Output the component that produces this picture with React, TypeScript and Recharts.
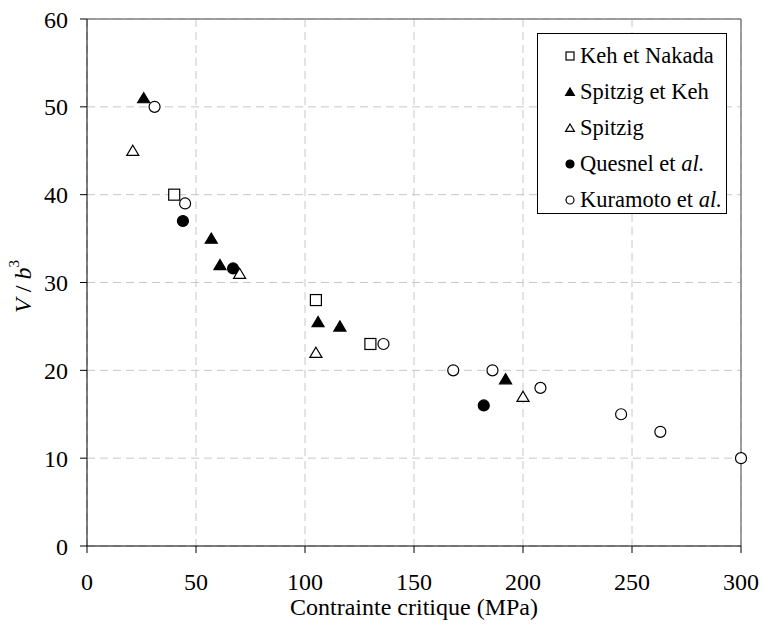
import React from "react";
import {
  ScatterChart,
  Scatter,
  XAxis,
  YAxis,
  CartesianGrid,
  ReferenceLine,
  Label,
} from "recharts";

// Activation volume vs critical stress, grouped by source
const kehNakada = [
  { x: 40, y: 40 },
  { x: 105, y: 28 },
  { x: 130, y: 23 },
];
const spitzigKeh = [
  { x: 26, y: 51 },
  { x: 57, y: 35 },
  { x: 61, y: 32 },
  { x: 106, y: 25.5 },
  { x: 116, y: 25 },
  { x: 192, y: 19 },
];
const spitzig = [
  { x: 21, y: 45 },
  { x: 70, y: 31 },
  { x: 105, y: 22 },
  { x: 200, y: 17 },
];
const quesnel = [
  { x: 44, y: 37 },
  { x: 67, y: 31.6 },
  { x: 182, y: 16 },
];
const kuramoto = [
  { x: 31, y: 50 },
  { x: 45, y: 39 },
  { x: 136, y: 23 },
  { x: 168, y: 20 },
  { x: 186, y: 20 },
  { x: 208, y: 18 },
  { x: 245, y: 15 },
  { x: 263, y: 13 },
  { x: 300, y: 10 },
];

const xTicks = [0, 50, 100, 150, 200, 250, 300];
const yTicks = [0, 10, 20, 30, 40, 50, 60];

const FONT = "'Liberation Serif', 'DejaVu Serif', serif";

type Marker = "square" | "triUp" | "circle";

// draws a marker centred on (cx, cy)
const drawMarker = (kind: Marker, filled: boolean, cx: number, cy: number, s: number) => {
  const fill = filled ? "#000" : "#fff";
  const h = s / 2;
  if (kind === "square") {
    return <rect x={cx - h} y={cy - h} width={s} height={s} fill={fill} stroke="#000" strokeWidth={1.2} />;
  }
  if (kind === "triUp") {
    const pts = `${cx},${cy - h} ${cx + h * 1.1},${cy + h * 0.85} ${cx - h * 1.1},${cy + h * 0.85}`;
    return <polygon points={pts} fill={fill} stroke="#000" strokeWidth={1.2} />;
  }
  return <circle cx={cx} cy={cy} r={h} fill={fill} stroke="#000" strokeWidth={1.2} />;
};

const shapeFor = (kind: Marker, filled: boolean) => (props: any) =>
  drawMarker(kind, filled, props.cx, props.cy, 11);

const legendItems: { label: React.ReactNode; kind: Marker; filled: boolean }[] = [
  { label: "Keh et Nakada", kind: "square", filled: false },
  { label: "Spitzig et Keh", kind: "triUp", filled: true },
  { label: "Spitzig", kind: "triUp", filled: false },
  {
    label: (
      <>
        Quesnel et <i>al.</i>
      </>
    ),
    kind: "circle",
    filled: true,
  },
  {
    label: (
      <>
        Kuramoto et <i>al.</i>
      </>
    ),
    kind: "circle",
    filled: false,
  },
];

const LegendBox = () => (
  <div
    style={{
      position: "absolute",
      left: 537,
      top: 33,
      border: "1px solid #000",
      background: "#fff",
      width: 190,
      height: 181,
      boxSizing: "border-box",
      paddingTop: 4,
      fontFamily: FONT,
      fontSize: 22.5,
      lineHeight: "36px",
      color: "#000",
    }}
  >
    {legendItems.map((item, i) => (
      <div key={i} style={{ display: "flex", alignItems: "center", height: 36, whiteSpace: "nowrap" }}>
        <svg width={38} height={14} style={{ flex: "none" }}>
          {drawMarker(item.kind, item.filled, 32, 7, 8)}
        </svg>
        <span style={{ marginLeft: 4 }}>{item.label}</span>
      </div>
    ))}
  </div>
);

const YTitle = (props: any) => {
  const { viewBox } = props;
  const cx = 23;
  const cy = viewBox.y + viewBox.height / 2 + 4;
  return (
    <text
      x={cx}
      y={cy}
      transform={`rotate(-90, ${cx}, ${cy})`}
      textAnchor="middle"
      dominantBaseline="central"
      fontFamily={FONT}
      fontSize={24}
      fill="#000"
    >
      <tspan fontStyle="italic">V</tspan>
      <tspan> / </tspan>
      <tspan fontStyle="italic">b</tspan>
      <tspan fontSize={15} dy={-9}>
        3
      </tspan>
    </text>
  );
};

const XTitle = (props: any) => {
  const { viewBox } = props;
  return (
    <text
      x={viewBox.x + viewBox.width / 2}
      y={615}
      textAnchor="middle"
      fontFamily={FONT}
      fontSize={24}
      fill="#000"
    >
      Contrainte critique (MPa)
    </text>
  );
};

export default function App() {
  return (
    <div style={{ position: "absolute", left: 0, top: 0, width: 763, height: 628, background: "#fff" }}>
      <ScatterChart width={763} height={628} margin={{ top: 19, right: 22, bottom: 22, left: 27 }}>
        <CartesianGrid stroke="#c8c8c8" strokeDasharray="8 5" />
        <XAxis
          type="number"
          dataKey="x"
          domain={[0, 300]}
          ticks={xTicks}
          interval={0}
          height={60}
          tickSize={7}
          tickMargin={20}
          stroke="#000"
          tick={{ fill: "#000", fontSize: 24, fontFamily: FONT }}
        >
          <Label content={<XTitle />} />
        </XAxis>
        <YAxis
          type="number"
          dataKey="y"
          domain={[0, 60]}
          ticks={yTicks}
          interval={0}
          width={60}
          tickSize={7}
          tickMargin={12}
          stroke="#000"
          tick={{ fill: "#000", fontSize: 24, fontFamily: FONT }}
        >
          <Label content={<YTitle />} />
        </YAxis>
        <ReferenceLine y={60} stroke="#808080" strokeWidth={1.5} />
        <ReferenceLine x={300} stroke="#808080" strokeWidth={1.5} />
        <Scatter name="Keh et Nakada" data={kehNakada} shape={shapeFor("square", false)} isAnimationActive={false} />
        <Scatter name="Spitzig et Keh" data={spitzigKeh} shape={shapeFor("triUp", true)} isAnimationActive={false} />
        <Scatter name="Quesnel et al." data={quesnel} shape={shapeFor("circle", true)} isAnimationActive={false} />
        <Scatter name="Spitzig" data={spitzig} shape={shapeFor("triUp", false)} isAnimationActive={false} />
        <Scatter name="Kuramoto et al." data={kuramoto} shape={shapeFor("circle", false)} isAnimationActive={false} />
      </ScatterChart>
      <LegendBox />
    </div>
  );
}
